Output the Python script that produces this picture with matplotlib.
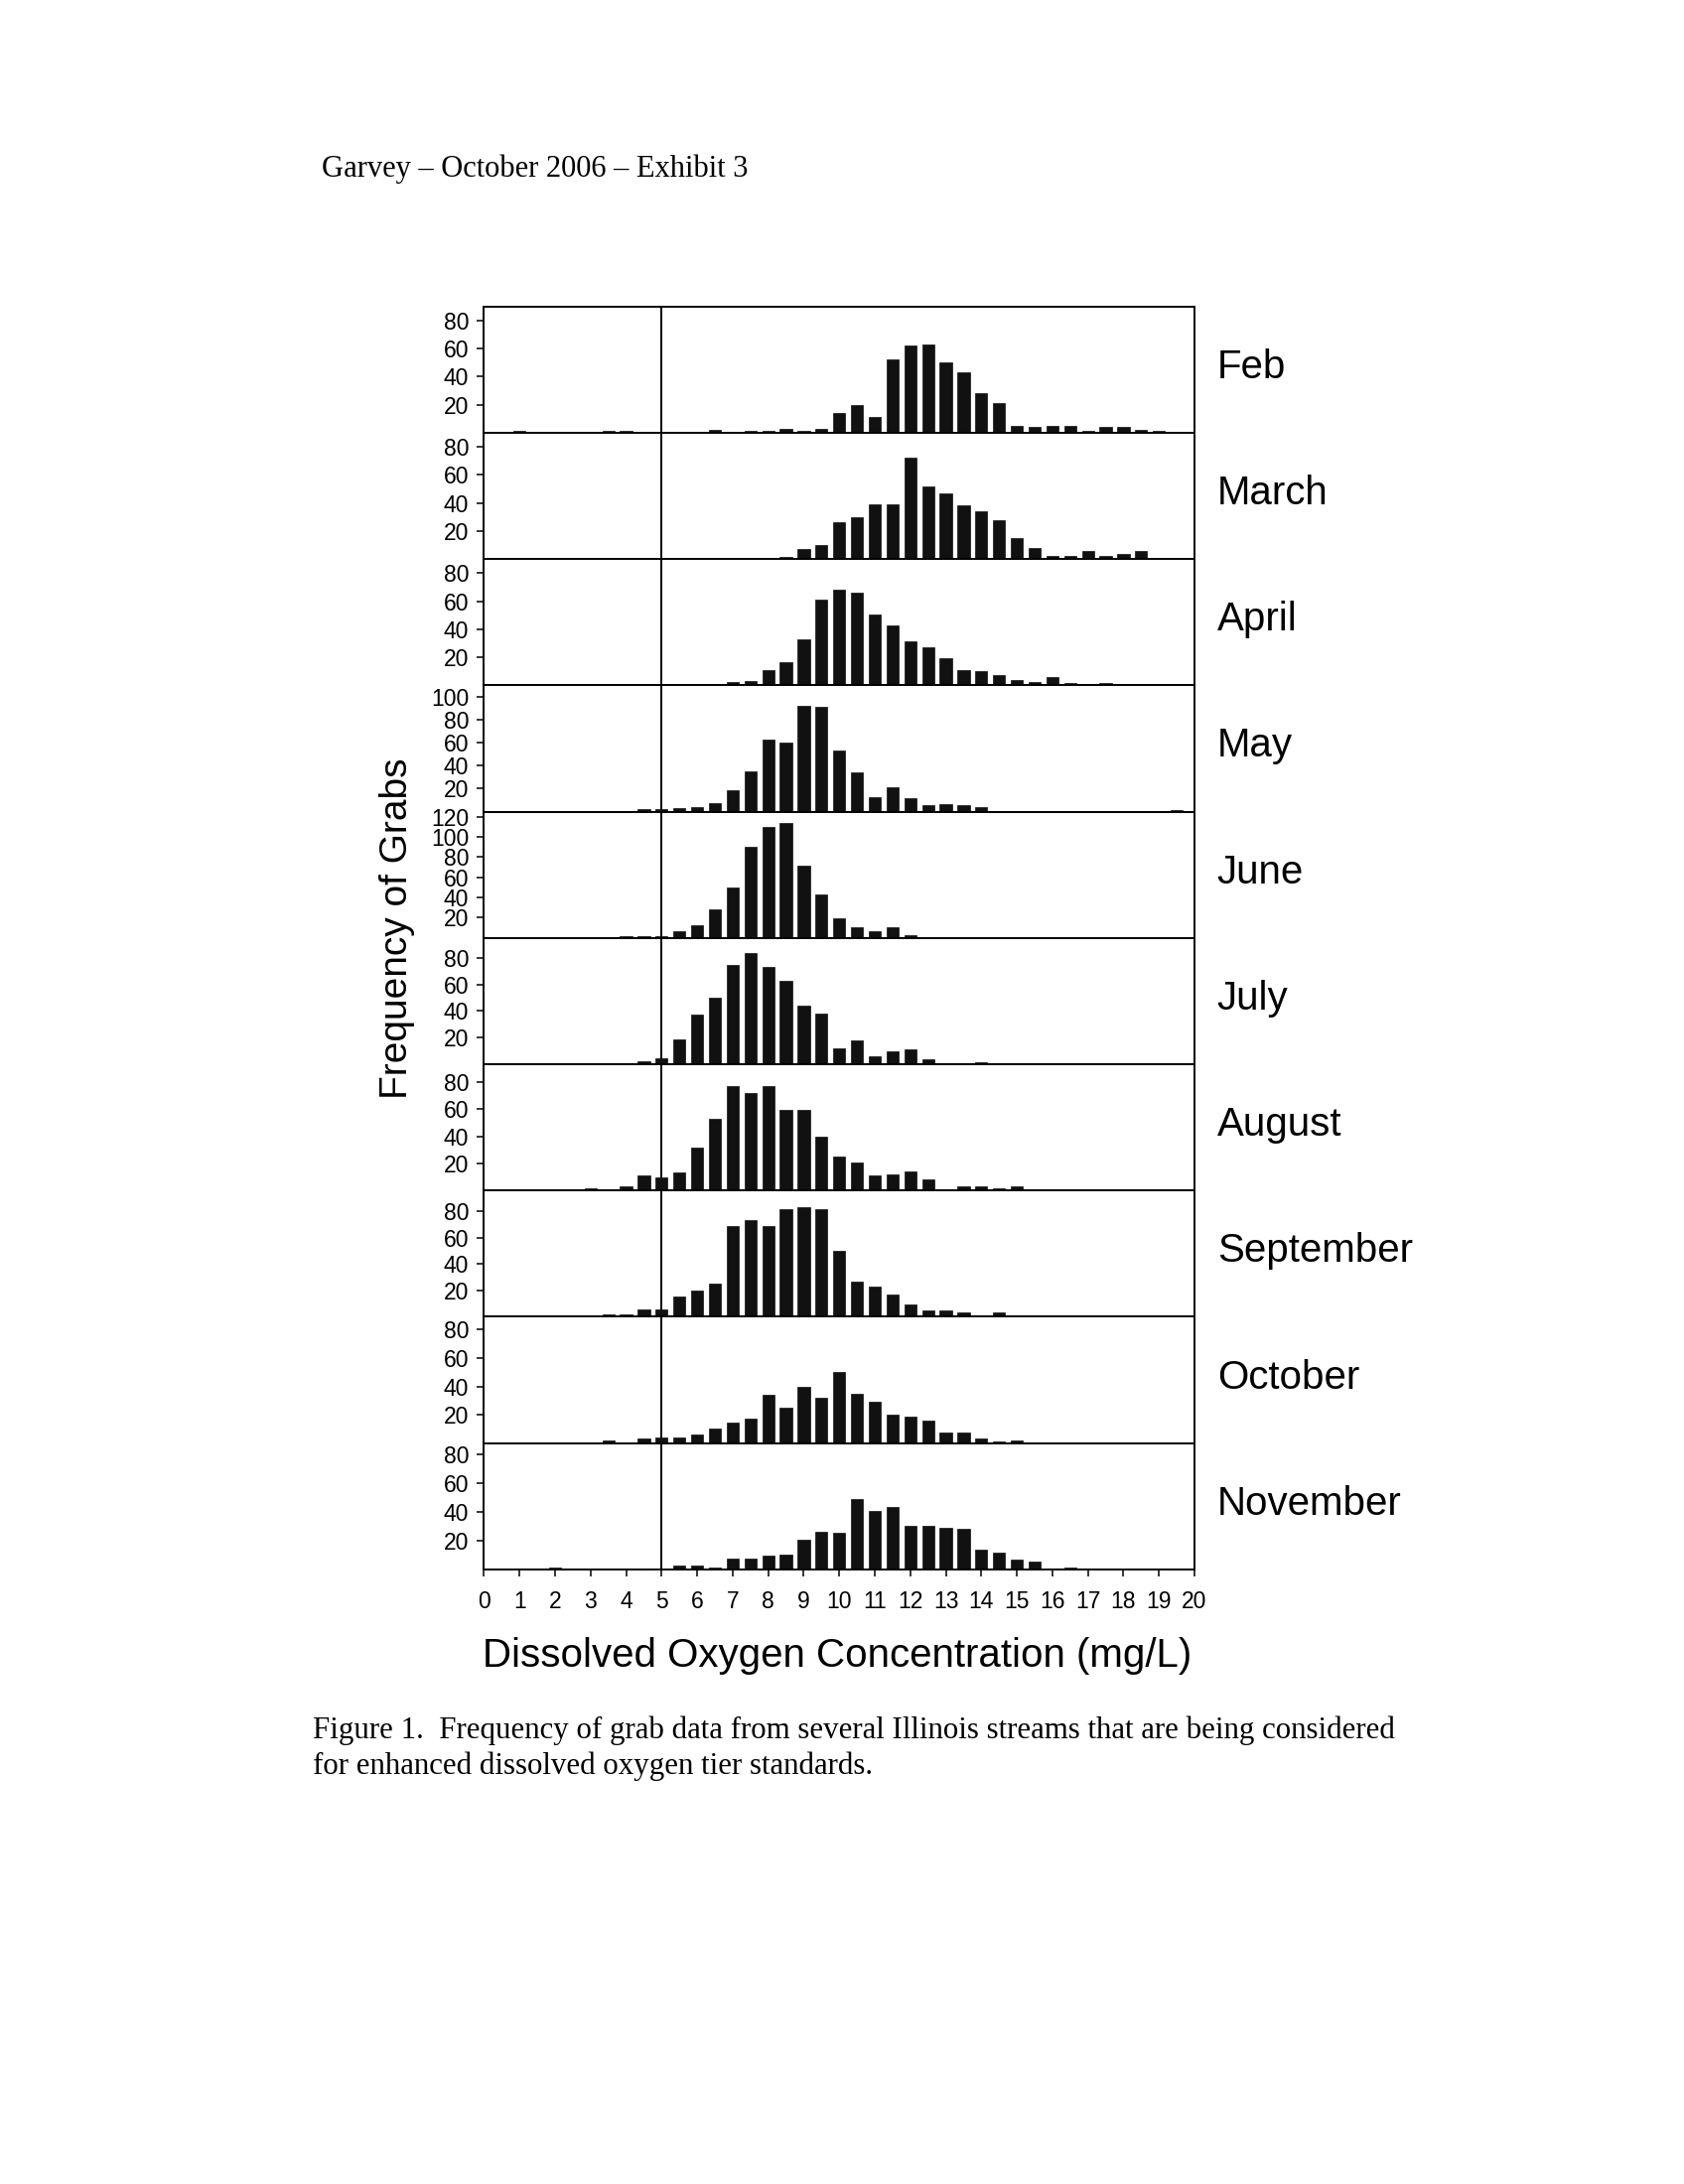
import numpy as np
import matplotlib
matplotlib.use("Agg")
import matplotlib.pyplot as plt

# DO bins (mg/L), 0.5 wide, 0.5 .. 20
bins = np.arange(0.5, 20.01, 0.5)

months = ["Feb", "March", "April", "May", "June", "July",
          "August", "September", "October", "November"]

feb = [0, 1, 0, 0, 0, 0, 1, 1, 0, 0,
       0, 0, 2, 0, 1, 1, 3, 1.5, 3, 14,
       20, 11, 52, 62, 63, 50, 43, 28, 21, 5,
       4, 5, 5, 1, 4, 4, 2, 1, 0.5, 0]
march = [0, 0.5, 0, 0, 0, 0, 0.5, 0.5, 0, 0,
         0, 0, 0.5, 0, 0.5, 0.5, 1.5, 7, 10, 26,
         30, 39, 39, 72, 52, 47, 38, 34, 28, 15,
         8, 2, 2, 5.5, 2, 3.5, 5.5, 0.5, 0, 0]
april = [0, 0, 0, 0, 0, 0, 0.5, 0, 0, 0,
         0, 0, 0, 2.6, 3.3, 10.5, 16.5, 33, 61, 68,
         66, 50.5, 42.5, 31.5, 27, 19.5, 11, 10, 7, 4,
         2.6, 6, 2, 0.7, 2, 0, 0.5, 0, 0.7, 0]
may = [0, 0, 0, 0, 0, 0, 0.5, 0, 2, 2,
       3, 3.7, 7, 18.5, 35.5, 63, 60.5, 92, 91, 53.5,
       34, 13, 21, 11.5, 5.5, 6.3, 5.5, 4.3, 0, 0.5,
       0, 0, 0.5, 0, 0, 0, 0.5, 0, 1, 0]
june = [0.5, 0, 0, 0, 0, 0, 0, 1.7, 1.7, 1.7,
        7, 12.5, 28.5, 50, 90.5, 110, 114, 72, 43, 19.5,
        11, 6.5, 11, 2.5, 0.5, 0.5, 0.5, 0.5, 0.5, 0,
        0, 0, 0, 0, 0, 0, 0, 0, 0, 0]
july = [0, 0, 0, 0, 1, 0, 0.5, 0.5, 2.3, 4.6,
        18.5, 37, 50, 75, 83.5, 73.5, 62.5, 44, 38, 12,
        18, 5.7, 10, 11, 3.6, 0.7, 0.7, 1.8, 0, 0.5,
        0, 0, 0, 0, 0, 0, 0, 0, 0, 0]
august = [0, 0, 0, 0.3, 0, 1.5, 0.5, 3, 11, 10,
          13.5, 31.5, 52.5, 77, 72, 77, 59.5, 59.5, 40, 25,
          21, 11.5, 12, 14, 8, 0.5, 3, 3, 2, 3,
          0.5, 0.3, 0, 0, 0, 0, 0, 0, 0, 0]
september = [0, 0, 0, 0.5, 0, 1, 2, 1.5, 6, 6,
             15.5, 20, 25, 69, 73.5, 69, 82, 83.5, 82, 50,
             27, 23, 17, 9.5, 5, 4.6, 3.6, 1.3, 3.4, 1.3,
             0, 0, 0.5, 0, 0, 0, 0, 0, 0, 0]
october = [0, 0.5, 0, 0, 0.5, 0, 2, 0.5, 3.5, 4,
           4, 6.3, 10, 14.5, 17, 34, 25, 40, 32, 50,
           35, 29, 20, 18.5, 16, 7.5, 7.5, 3.3, 1, 1.6,
           0.3, 0, 0.7, 0.3, 0, 0, 0, 0, 0, 0]
november = [0, 0.5, 0, 1, 0.5, 0, 0.5, 0.5, 0, 0.5,
            2.8, 2.8, 1, 7.6, 7.6, 9.7, 10.4, 21, 26.5, 25.5,
            49, 41, 43.5, 30.5, 30.5, 29, 28.5, 13.5, 12, 7,
            5.5, 0.5, 1, 0.5, 0, 0, 0, 0, 0, 0]

counts = [feb, march, april, may, june, july, august, september, october, november]
ymax = [90, 90, 90, 110, 125, 95, 93, 96, 89, 88]
yticks = [[20, 40, 60, 80]] * 3 + [[20, 40, 60, 80, 100],
                                   [20, 40, 60, 80, 100, 120]] + [[20, 40, 60, 80]] * 5
xticks = list(range(0, 21))

SANS = ["Liberation Sans", "DejaVu Sans"]
SERIF = ["Liberation Serif", "DejaVu Serif"]

fig = plt.figure(figsize=(16.96, 22), dpi=100)

left, right = 0.2874, 0.7093
top, bottom = 0.8597, 0.2814
h = (top - bottom) / len(months)

for i, (name, vals) in enumerate(zip(months, counts)):
    ax = fig.add_axes([left, top - (i + 1) * h, right - left, h])
    ax.bar(bins, vals, width=0.34, color="#111111", edgecolor="#111111",
           linewidth=0.5, zorder=2)
    ax.axvline(5, color="black", linewidth=1.4, zorder=1)
    ax.set_xlim(0, 20)
    ax.set_ylim(0, ymax[i])
    ax.set_yticks(yticks[i])
    ax.set_yticklabels([str(t) for t in yticks[i]], family=SANS, fontsize=16.5)
    ax.set_xticks(xticks)
    if i == len(months) - 1:
        ax.set_xticklabels([str(t) for t in xticks], family=SANS, fontsize=16.5)
    else:
        ax.set_xticklabels([])
    ax.tick_params(axis="both", direction="out", length=5, width=1.1, pad=6)
    ax.tick_params(axis="x", pad=10)
    for s in ax.spines.values():
        s.set_linewidth(1.4)
    ax.text(1.032, 0.52, name, transform=ax.transAxes, ha="left", va="center",
            family=SANS, fontsize=29)

fig.text(0.236, 0.575, "Frequency of Grabs", rotation=90, ha="center", va="center",
         family=SANS, fontsize=28)
fig.text(0.497, 0.2420, "Dissolved Oxygen Concentration (mg/L)", ha="center", va="center",
         family=SANS, fontsize=29)

fig.text(0.191, 0.9227, "Garvey \u2013 October 2006 \u2013 Exhibit 3", ha="left", va="center",
         family=SERIF, fontsize=22)
fig.text(0.186, 0.2077, "Figure 1.  Frequency of grab data from several Illinois streams that are being considered",
         ha="left", va="center", family=SERIF, fontsize=22.2)
fig.text(0.186, 0.1914, "for enhanced dissolved oxygen tier standards.",
         ha="left", va="center", family=SERIF, fontsize=22.2)

fig.savefig("out.png", dpi=100, facecolor="white")
